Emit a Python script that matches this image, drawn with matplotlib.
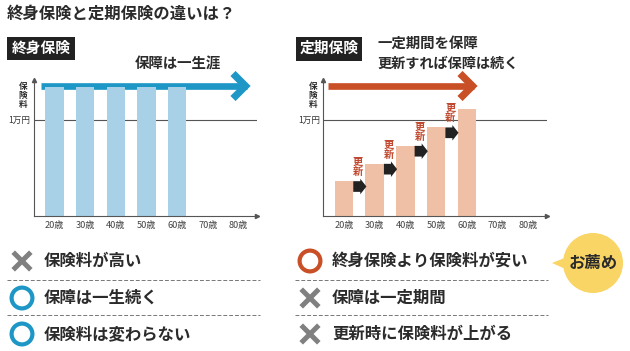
import matplotlib
matplotlib.use("Agg")
import matplotlib.pyplot as plt
from matplotlib.patches import Circle, Polygon, Rectangle

plt.rcParams['font.family'] = ['Noto Sans CJK JP', 'DejaVu Sans']

# data
ages = ['20歳', '30歳', '40歳', '50歳', '60歳', '70歳', '80歳']
whole_life = [1.335, 1.335, 1.335, 1.335, 1.335]
term_life = [0.366, 0.545, 0.73, 0.92, 1.106]
whole_points = ['保険料が高い', '保障は一生続く', '保険料は変わらない']
whole_marks = ['x', 'o', 'o']
term_points = ['終身保険より保険料が安い', '保障は一定期間', '更新時に保険料が上がる']
term_marks = ['o', 'x', 'x']

W, H = 630, 351
BLUE = '#1f97c6'
ORANGE = '#c94f26'
DARK = '#2b2b2b'
GREY = '#808080'

fig = plt.figure(figsize=(W / 100, H / 100), dpi=100)

# background layer in pixel coords
bg = fig.add_axes([0, 0, 1, 1], zorder=0)
bg.set_xlim(0, W)
bg.set_ylim(H, 0)
bg.axis('off')


def MakeChart(left, right, xstart, values, color):
    ax = fig.add_axes([left / W, 1 - 216.5 / H, (right - left) / W, 136.5 / H], zorder=1)
    ax.patch.set_alpha(0)
    ax.set_xlim(xstart, xstart + (right - left) / 30.7)
    ax.set_ylim(0, 136.5 / 97)
    ax.axhline(1, color='#555555', lw=0.8, zorder=1)
    ax.bar(range(len(values)), values, 0.6, color=color, zorder=2)
    ax.spines['top'].set_visible(False)
    ax.spines['right'].set_visible(False)
    ax.spines['left'].set_color('#555555')
    ax.spines['bottom'].set_color('#555555')
    ax.set_xticks(range(len(ages)), ages, fontsize=6.6, color='#444444')
    ax.set_yticks([1], ['1万円'], fontsize=6.2, color='#333333')
    ax.tick_params(length=0, pad=2.5)
    ax.tick_params(axis='x', pad=3)
    ax.plot(1, 0, '>', color='#555555', ms=3, transform=ax.transAxes, clip_on=False)
    ax.plot(0, 1, '^', color='#555555', ms=3, transform=ax.transAxes, clip_on=False)
    ax.text(-0.047, 0.985, '保\n険\n料', transform=ax.transAxes, fontsize=6.2, fontweight='bold',
            color=DARK, ha='center', va='top', linespacing=1.0)
    return ax


def BigArrow(x0, x1, y, color):
    bg.plot([x0, x1 - 3], [y, y], color=color, lw=4.8, solid_capstyle='butt')
    bg.plot([x1 - 17, x1 - 4.5, x1 - 17], [y - 12.5, y, y + 12.5], color=color, lw=5.2,
            solid_capstyle='butt', solid_joinstyle='miter')


def Badge(x0, x1, y0, y1, label):
    bg.add_patch(Rectangle((x0, y0), x1 - x0, y1 - y0, color='#222222', lw=0))
    bg.text((x0 + x1) / 2, (y0 + y1) / 2 - 0.5, label, color='white', fontsize=10.6,
            fontweight='bold', ha='center', va='center')


def Mark(x, y, kind):
    if kind == 'x':
        bg.plot([x - 8.8, x + 8.8], [y - 8.8, y + 8.8], color=GREY, lw=3.6, solid_capstyle='butt')
        bg.plot([x - 8.8, x + 8.8], [y + 8.8, y - 8.8], color=GREY, lw=3.6, solid_capstyle='butt')


def Points(marks, labels, xmark, xtext, xdash0, xdash1, color):
    ys = [261, 298, 334]
    for y, m, t in zip(ys, marks, labels):
        if m == 'o':
            bg.add_patch(Circle((xmark, y), 10.4, fill=False, ec=color, lw=3))
        else:
            Mark(xmark, y, m)
        bg.text(xtext, y, t, fontsize=11.8, fontweight='bold', color=DARK, ha='left', va='center')
    for y in [279.7, 315]:
        bg.plot([xdash0, xdash1], [y, y], color='#777777', lw=0.7, ls=(0, (4, 2)))


# title
bg.text(7, 14, '終身保険と定期保険の違いは？', fontsize=11.8, fontweight='bold', color=DARK,
        ha='left', va='center')

# left chart
Badge(7, 75, 36.5, 60, '終身保険')
bg.text(135, 64, '保障は一生涯', fontsize=10.4, fontweight='bold', color=DARK, ha='left', va='center')
BigArrow(41, 250, 86, BLUE)
ax1 = MakeChart(33.5, 257, -0.678, whole_life, '#a8d0e6')

# right chart
Badge(295.5, 362, 36.5, 60.5, '定期保険')
bg.text(377, 44, '一定期間を保障', fontsize=10.4, fontweight='bold', color=DARK, ha='left', va='center')
bg.text(377, 64, '更新すれば保障は続く', fontsize=10.2, fontweight='bold', color=DARK, ha='left', va='center')
BigArrow(328, 477, 86, ORANGE)
ax2 = MakeChart(323.5, 547, -0.668, term_life, '#efbfa6')

# renewal arrows sit at each step between bars
for i, v in enumerate(term_life[:-1]):
    y = v - 0.057
    x = i + 0.3
    ax2.add_patch(Polygon([(x, y + 0.055), (x + 0.23, y + 0.055), (x + 0.23, y + 0.08),
                           (x + 0.43, y), (x + 0.23, y - 0.08), (x + 0.23, y - 0.055),
                           (x, y - 0.055)], color='#222222', lw=0, zorder=3))
    ax2.text(i + 0.46, v + 0.145, '更\n新', fontsize=7.4, fontweight='bold', color='#c0492f',
             ha='center', va='center', linespacing=1.0, zorder=3)

# bottom lists
Points(whole_marks, whole_points, 22, 44, 7, 260, BLUE)
Points(term_marks, term_points, 310, 332, 295, 548, ORANGE)

# recommend bubble
bg.add_patch(Polygon([(552, 263), (572, 255), (572, 272)], color='#f9d565', lw=0))
bg.add_patch(Circle((593, 263), 30, color='#f9d565', lw=0))
bg.text(593, 263, 'お薦め', fontsize=11.8, fontweight='bold', color=DARK, ha='center', va='center')

fig.savefig('out.png', dpi=100)
